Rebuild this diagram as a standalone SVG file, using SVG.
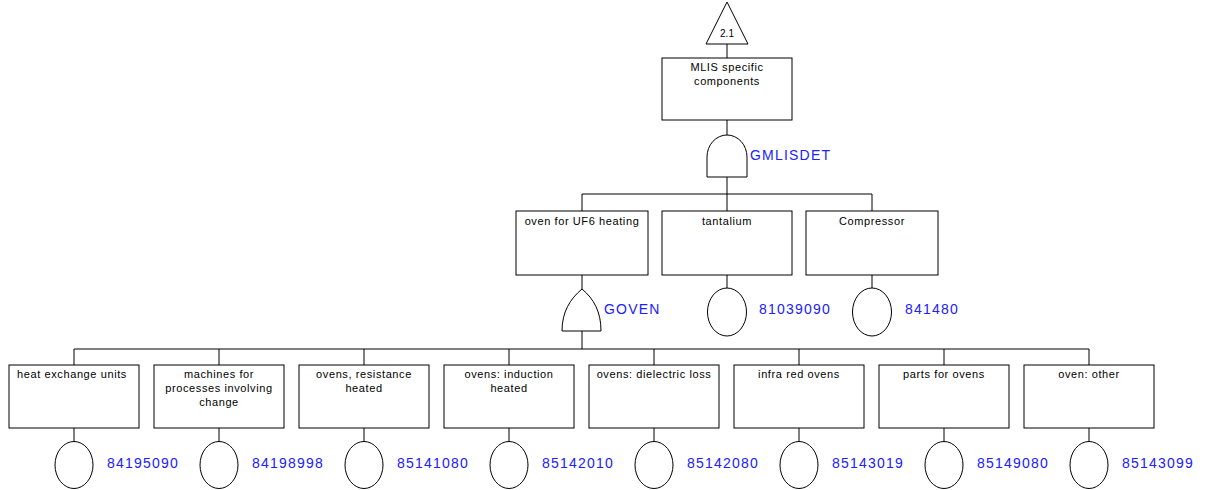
<svg xmlns="http://www.w3.org/2000/svg" width="1212" height="490" viewBox="0 0 1212 490">
  <style>
    .box { fill: #ffffff; stroke: #000000; stroke-width: 1; }
    .gate { fill: #ffffff; stroke: #000000; stroke-width: 1; }
    .event { fill: #ffffff; stroke: #000000; stroke-width: 1; }
    .wire { fill: none; stroke: #000000; stroke-width: 1; }
    .lbl { font-family: "Liberation Sans", Arial, sans-serif; font-size: 11px; fill: #000000; text-anchor: middle; letter-spacing: 0.6px; }
    .code { font-family: "Liberation Sans", Arial, sans-serif; font-size: 14px; fill: #2020ff; letter-spacing: 1.2px; }
    .xfer { font-family: "Liberation Sans", Arial, sans-serif; font-size: 10px; fill: #000000; text-anchor: middle; }
  </style>
  <rect width="1212" height="490" fill="#ffffff"/>

  <!-- connectors -->
  <g id="connectors" class="wire">
    <path d="M727,44 V58"/>
    <path d="M727,120 V135"/>
    <path d="M727,177 V194"/>
    <path d="M582,194 H872"/>
    <path d="M582,194 V211 M727,194 V211 M872,194 V211"/>
    <path d="M582,275 V289"/>
    <path d="M727,275 V288"/>
    <path d="M872,275 V288"/>
    <path d="M582,331 V349"/>
    <path d="M74,349 H1089"/>
    <path d="M74,349 V365 M219,349 V365 M364,349 V365 M509,349 V365 M654,349 V365 M799,349 V365 M944,349 V365 M1089,349 V365"/>
    <path d="M74,428 V442 M219,428 V442 M364,428 V442 M509,428 V442 M654,428 V442 M799,428 V442 M944,428 V442 M1089,428 V442"/>
  </g>

  <!-- transfer triangle -->
  <g id="transfer-2-1">
    <polygon class="gate" points="727,2 706,44 748,44"/>
    <text class="xfer" x="727" y="37">2.1</text>
  </g>

  <!-- top event -->
  <g id="mlis">
    <rect class="box" x="662" y="58" width="130" height="62"/>
    <text class="lbl" x="727" y="71">MLIS specific</text>
    <text class="lbl" x="727" y="85">components</text>
  </g>

  <!-- AND gate -->
  <g id="gmlisdet">
    <path class="gate" d="M707,177 V157 A20,22 0 0 1 747,157 V177 Z"/>
    <text class="code" x="750" y="160">GMLISDET</text>
  </g>

  <!-- second level -->
  <g id="oven-uf6">
    <rect class="box" x="516" y="211" width="132" height="64"/>
    <text class="lbl" x="582" y="225">oven for UF6 heating</text>
  </g>
  <g id="tantalum">
    <rect class="box" x="662" y="211" width="130" height="64"/>
    <text class="lbl" x="727" y="225">tantalium</text>
    <ellipse class="event" cx="727" cy="312" rx="19.5" ry="24"/>
    <text class="code" x="759" y="314">81039090</text>
  </g>
  <g id="compressor">
    <rect class="box" x="806" y="211" width="132" height="64"/>
    <text class="lbl" x="872" y="225">Compressor</text>
    <ellipse class="event" cx="872" cy="312" rx="19.5" ry="24"/>
    <text class="code" x="905" y="314">841480</text>
  </g>

  <!-- OR gate -->
  <g id="goven">
    <path class="gate" d="M562,331 C562,312 570,299 582,289 C594,299 601,312 601,331 Z"/>
    <text class="code" x="604" y="314">GOVEN</text>
  </g>

  <!-- third level -->
  <g id="heat-exchange">
    <rect class="box" x="9" y="365" width="130" height="63"/>
    <text class="lbl" x="72" y="378">heat exchange units</text>
    <ellipse class="event" cx="74" cy="465" rx="19" ry="23.5"/>
    <text class="code" x="107" y="468">84195090</text>
  </g>
  <g id="machines">
    <rect class="box" x="154" y="365" width="130" height="63"/>
    <text class="lbl" x="219" y="378">machines for</text>
    <text class="lbl" x="219" y="392">processes involving</text>
    <text class="lbl" x="219" y="406">change</text>
    <ellipse class="event" cx="219" cy="465" rx="19" ry="23.5"/>
    <text class="code" x="252" y="468">84198998</text>
  </g>
  <g id="resistance">
    <rect class="box" x="299" y="365" width="130" height="63"/>
    <text class="lbl" x="364" y="378">ovens, resistance</text>
    <text class="lbl" x="364" y="392">heated</text>
    <ellipse class="event" cx="364" cy="465" rx="19" ry="23.5"/>
    <text class="code" x="397" y="468">85141080</text>
  </g>
  <g id="induction">
    <rect class="box" x="444" y="365" width="130" height="63"/>
    <text class="lbl" x="509" y="378">ovens: induction</text>
    <text class="lbl" x="509" y="392">heated</text>
    <ellipse class="event" cx="509" cy="465" rx="19" ry="23.5"/>
    <text class="code" x="542" y="468">85142010</text>
  </g>
  <g id="dielectric">
    <rect class="box" x="589" y="365" width="130" height="63"/>
    <text class="lbl" x="654" y="378">ovens: dielectric loss</text>
    <ellipse class="event" cx="654" cy="465" rx="19" ry="23.5"/>
    <text class="code" x="687" y="468">85142080</text>
  </g>
  <g id="infrared">
    <rect class="box" x="734" y="365" width="130" height="63"/>
    <text class="lbl" x="799" y="378">infra red ovens</text>
    <ellipse class="event" cx="799" cy="465" rx="19" ry="23.5"/>
    <text class="code" x="832" y="468">85143019</text>
  </g>
  <g id="parts">
    <rect class="box" x="879" y="365" width="130" height="63"/>
    <text class="lbl" x="944" y="378">parts for ovens</text>
    <ellipse class="event" cx="944" cy="465" rx="19" ry="23.5"/>
    <text class="code" x="977" y="468">85149080</text>
  </g>
  <g id="oven-other">
    <rect class="box" x="1024" y="365" width="130" height="63"/>
    <text class="lbl" x="1089" y="378">oven: other</text>
    <ellipse class="event" cx="1089" cy="465" rx="19" ry="23.5"/>
    <text class="code" x="1122" y="468">85143099</text>
  </g>
</svg>
